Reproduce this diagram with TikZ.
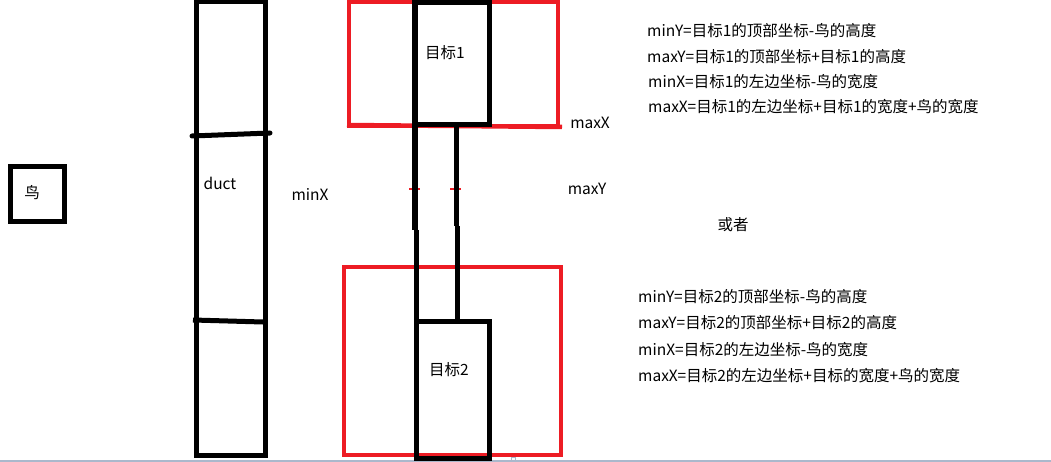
\documentclass[tikz,border=0pt]{standalone}
\usepackage{fontspec}
\setmainfont{Noto Sans CJK SC}
\definecolor{pred}{RGB}{237,28,36}
\definecolor{pgray}{RGB}{170,184,204}
\begin{document}
\begin{tikzpicture}[x=1pt,y=-1pt,
  blk/.style={draw=black, line width=5pt},
  redbox/.style={draw=pred, line width=4.5pt},
  lbl/.style={font=\fontsize{15.5}{18}\selectfont, inner sep=0pt, text=black},
  formula/.style={lbl, anchor=west},
  boxnode/.style={blk, inner sep=0pt}]
\useasboundingbox (0,0) rectangle (1051,462);
% bottom gray strip
\fill[pgray] (0,460) rectangle (1051,462);
\draw[pgray, line width=0.8pt] (511,457) rectangle (515,461);
% bird
\node[boxnode, minimum width=54pt, minimum height=55pt] (bird) at (37,194.5) {};
\node[lbl] (birdlbl) at (32,193) {鸟};
% duct
\node[boxnode, minimum width=69pt, minimum height=453pt] (duct) at (230.5,228.5) {};
\coordinate (d1l) at (192,136); \coordinate (d1r) at (270,133);
\coordinate (d2l) at (193,320); \coordinate (d2r) at (263,322);
\draw[blk, line cap=round] (d1l) -- (d1r);
\draw[blk] (d2l) -- (d2r);
\node[lbl] (ductlbl) at (220,183) {duct};
\node[lbl] (minx) at (310,194) {minX};
% red zones
\node[redbox, inner sep=0pt, minimum width=209pt, minimum height=124pt] (zone1) at (453.5,64) {};
\coordinate (z1a) at (347,125); \coordinate (z1b) at (562,127);
\draw[redbox] (z1a) -- (z1b);
\node[redbox, inner sep=0pt, minimum width=217pt, minimum height=188pt] (zone2) at (452.5,361) {};
% small red marks
\coordinate (m1a) at (409,189); \coordinate (m1b) at (420,189);
\coordinate (m2a) at (450,189); \coordinate (m2b) at (461,189);
\draw[pred, line width=2.5pt] (m1a) -- (m1b);
\draw[pred, line width=2.5pt] (m2a) -- (m2b);
% targets
\node[boxnode, minimum width=74pt, minimum height=122pt] (t1) at (452,64) {};
\node[boxnode, minimum width=73pt, minimum height=137pt] (t2) at (452.5,389.5) {};
\node[lbl] (t1lbl) at (445,53) {目标1};
\node[lbl] (t2lbl) at (449,370) {目标2};
% pipe
\coordinate (pl0) at (415,0); \coordinate (pl1) at (415,230);
\coordinate (pl2) at (416,230); \coordinate (pl3) at (416,460);
\coordinate (pr0) at (456,126); \coordinate (pr1) at (456,226);
\coordinate (pr2) at (457,226); \coordinate (pr3) at (457,323);
\draw[blk, line width=5.5pt] (pl0) -- (pl1);
\draw[blk] (pl2) -- (pl3);
\draw[blk] (pr0) -- (pr1);
\draw[blk] (pr2) -- (pr3);
% labels
\node[lbl] (maxx) at (590,123) {maxX};
\node[lbl] (maxy) at (587,189) {maxY};
\node[lbl] (or) at (733,225) {或者};
% formulas 1
\node[formula] (f11) at (647,31) {minY=目标1的顶部坐标-鸟的高度};
\node[formula] (f12) at (647,57) {maxY=目标1的顶部坐标+目标1的高度};
\node[formula] (f13) at (648,82) {minX=目标1的左边坐标-鸟的宽度};
\node[formula] (f14) at (648,107) {maxX=目标1的左边坐标+目标1的宽度+鸟的宽度};
% formulas 2
\node[formula] (f21) at (638,297) {minY=目标2的顶部坐标-鸟的高度};
\node[formula] (f22) at (638,323) {maxY=目标2的顶部坐标+目标2的高度};
\node[formula] (f23) at (638,350) {minX=目标2的左边坐标-鸟的宽度};
\node[formula] (f24) at (638,376) {maxX=目标2的左边坐标+目标的宽度+鸟的宽度};
\end{tikzpicture}
\end{document}
